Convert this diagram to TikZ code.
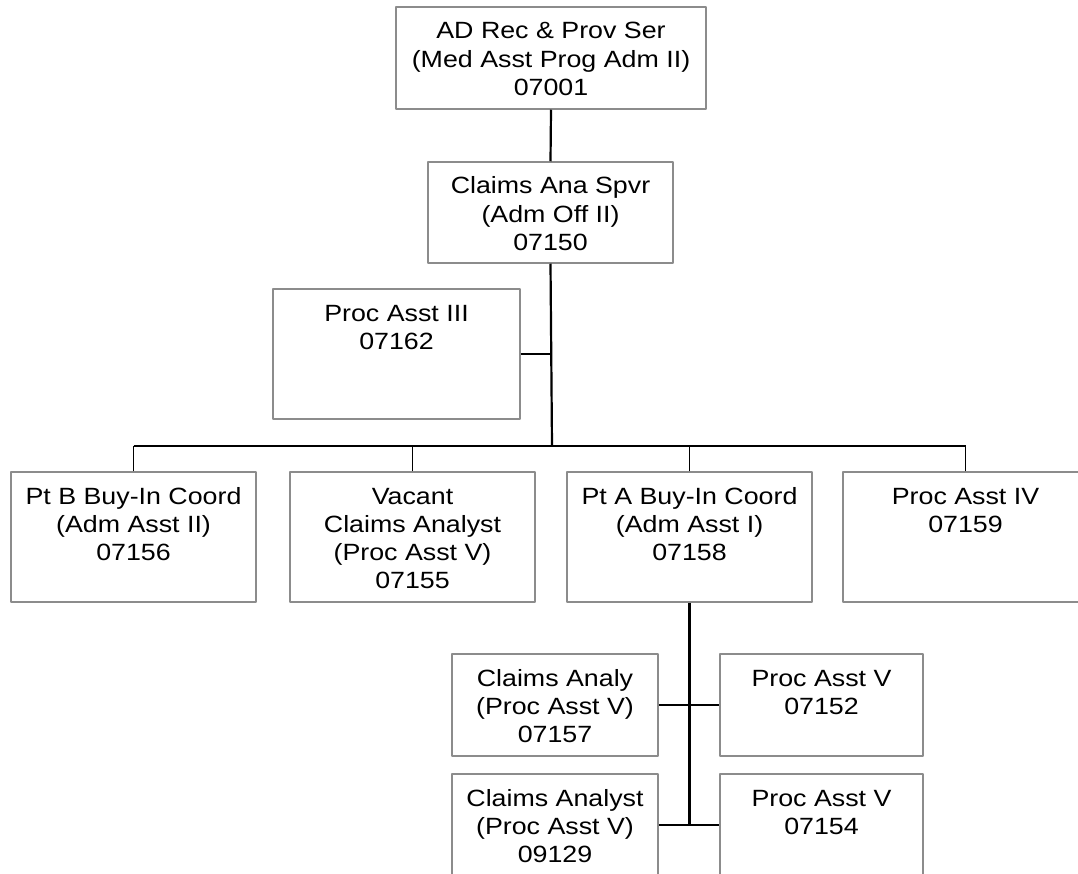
\documentclass[tikz,border=0pt]{standalone}
\usepackage{fontspec}
\setmainfont{Liberation Sans}[FakeStretch=1.14]
\usetikzlibrary{positioning}
\definecolor{boxgray}{RGB}{140,140,140}
\newcommand{\posttext}[3]{\parbox[c][#2pt][t]{#1pt}{\centering\rule{0pt}{32pt}#3}}

\begin{document}
\begin{tikzpicture}[x=1pt, y=-1pt]
	\begin{scope}[line join=round, font=\fontsize{23.5}{28.2}\selectfont,
		post/.style={draw=boxgray, line width=1.5pt, inner sep=0pt},
		link/.style={line width=2.2pt},
		drop/.style={line width=1.1pt}]

	\useasboundingbox (0,0) rectangle (1078,874);
	\clip (0,0) rectangle (1078,874);

% boxes
\node[post] (adrec) at (551,58) {\posttext{310}{102}{AD Rec \& Prov Ser\\(Med Asst Prog Adm II)\\07001}};
\node[post] (spvr) at (550.5,212.5) {\posttext{245}{101}{Claims Ana Spvr\\(Adm Off II)\\07150}};
\node[post] (pa3) at (396.5,354) {\posttext{247}{130}{Proc Asst III\\07162}};

\node[post] (ptb) at (133.5,537) {\posttext{245}{130}{Pt B Buy-In Coord\\(Adm Asst II)\\07156}};
\node[post] (vacant) at (412.5,537) {\posttext{245}{130}{Vacant\\Claims Analyst\\(Proc Asst V)\\07155}};
\node[post] (pta) at (689.5,537) {\posttext{245}{130}{Pt A Buy-In Coord\\(Adm Asst I)\\07158}};
\node[post] (pa4) at (965.5,537) {\posttext{245}{130}{Proc Asst IV\\07159}};

\node[post] (ca7157) at (555,705) {\posttext{206}{102}{Claims Analy\\(Proc Asst V)\\07157}};
\node[post] (pa7152) at (821.5,705) {\posttext{203}{102}{Proc Asst V\\07152}};
\node[post] (ca9129) at (555,825) {\posttext{206}{102}{Claims Analyst\\(Proc Asst V)\\09129}};
\node[post] (pa7154) at (821.5,825) {\posttext{203}{102}{Proc Asst V\\07154}};

% lines
\coordinate (hub) at (552,446);
\draw[link] (adrec.south) -- (spvr.north);
\draw[link] (spvr.south) -- (hub);
\draw[link] (pa3.east) -- (pa3.east -| hub);
\draw[link] (ptb.north |- hub) -- (pa4.north |- hub);
\foreach \n in {ptb,vacant,pta,pa4}
{
	\draw[drop] (\n.north) -- (\n.north |- hub);
}

\draw[link] (pta.south) -- (pta.south |- ca9129.east);
\foreach \a/\b in {ca7157/pa7152,ca9129/pa7154}
{
	\draw[link] (\a.east) -- (\a.east -| pta.south);
	\draw[drop] (\a.east -| pta.south) -- (\b.west);
}

	\end{scope}
\end{tikzpicture}
\end{document}
